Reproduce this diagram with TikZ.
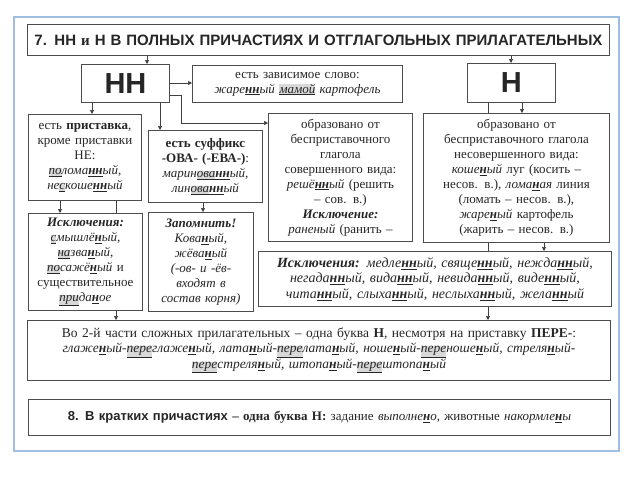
\documentclass[tikz,border=0pt]{standalone}
\usepackage{fontspec}
\setmainfont{Liberation Serif}
\setsansfont{Liberation Sans}
\usetikzlibrary{arrows.meta,calc}
\newcommand\hn[1]{\underline{\textbf{#1}}}
\newcommand\prefx[1]{{\setlength\fboxsep{0pt}\colorbox{gray!30}{\underline{#1}}}}
\tikzset{
    rule box/.style = {
        draw = black!70,
        line width = 0.9pt,
        fill = white,
        inner sep = 2pt,
        align = center,
        anchor = north west,
        text = black!85,
        font = \fontsize{13}{15}\selectfont,
        },
    boxdim/.style 2 args = {
        text width = #1,
        minimum height = #2,
        },
    head/.style = {
        font = \fontsize{29}{32}\selectfont\sffamily\bfseries,
        },
    link/.style = {
        draw = black!75,
        line width = 0.7pt,
        },
    link arrow/.style = {
        link,
        -{Triangle[length=4pt, width=4pt]},
        },
    frame/.style = {
        draw = {rgb,255:red,160;green,190;blue,225},
        line width = 1.2pt,
        },
}
\begin{document}
\begin{tikzpicture}[x=1pt, y=-1pt]
            \useasboundingbox[fill=white] (0,0) rectangle (640,480);
            \draw[frame] (14,17) rectangle (619,451);
            {
            \node [rule box, boxdim={578pt}{31pt}, font=\fontsize{15}{17}\selectfont\sffamily\bfseries] (title) at (27,24) {7. НН {\rmfamily и} Н В ПОЛНЫХ ПРИЧАСТИЯХ И ОТГЛАГОЛЬНЫХ ПРИЛАГАТЕЛЬНЫХ};
            \node [rule box, head, boxdim={84pt}{38pt}] (nn) at (81,64) {НН};
            \node [rule box, boxdim={206pt}{37pt}] (dep) at (192,65) {есть зависимое слово:\\ \textit{жаре\hn{нн}ый} \prefx{\textit{мамой}} \textit{картофель}};
            \node [rule box, head, boxdim={84pt}{39pt}] (h) at (467,63) {Н};

            \node [rule box, boxdim={109pt}{86pt}] (prist) at (28,114) {есть \textbf{приставка},\\ кроме приставки\\ НЕ:\\ \textit{\prefx{по}лома\hn{нн}ый},\\ \textit{не\prefx{с}коше\hn{нн}ый}};
            \node [rule box, boxdim={110pt}{72pt}] (suff) at (148,130) {\textbf{есть суффикс}\\ \textbf{-ОВА- (-ЕВА-)}:\\ \textit{марин\prefx{ова}\hn{нн}ый},\\ \textit{лин\prefx{ова}\hn{нн}ый}};
            \node [rule box, boxdim={140pt}{128pt}] (sov) at (268,113) {образовано от\\ бесприставочного\\ глагола\\ совершенного вида:\\ \textit{решё\hn{нн}ый} (решить\\ – сов. в.)\\ \textbf{\textit{Исключение:}}\\ \textit{раненый} (ранить –};
            \node [rule box, boxdim={182pt}{129pt}] (nesov) at (423,113) {образовано от\\ бесприставочного глагола\\ несовершенного вида:\\ \textit{коше\hn{н}ый} луг (косить –\\ несов. в.), \textit{лома\hn{н}ая} линия\\ (ломать – несов. в.),\\ \textit{жаре\hn{н}ый} картофель\\ (жарить – несов. в.)};

            \node [rule box, boxdim={110pt}{97pt}] (iskl1) at (28,213) {\textbf{\textit{Исключения:}}\\ \textit{\prefx{с}мышлё\hn{н}ый},\\ \textit{\prefx{на}зва\hn{н}ый},\\ \textit{\prefx{по}сажё\hn{н}ый} и\\ существительное\\ \textit{\prefx{при}да\hn{н}ое}};
            \node [rule box, boxdim={101pt}{99pt}, font=\fontsize{13}{15}\selectfont\itshape] (zapom) at (148,212) {\textbf{Запомнить!}\\ Кова\hn{н}ый,\\ жёва\hn{н}ый\\ (-ов- и -ёв-\\ входят в\\ состав корня)};
            \node [rule box, boxdim={349pt}{55pt}, font=\fontsize{14}{15.5}\selectfont] (iskl2) at (258,251) {\textbf{\textit{Исключения:}} \textit{медле\hn{нн}ый, свяще\hn{нн}ый, нежда\hn{нн}ый,}\\ \textit{негада\hn{нн}ый, вида\hn{нн}ый, невида\hn{нн}ый, виде\hn{нн}ый,}\\ \textit{чита\hn{нн}ый, слыха\hn{нн}ый, неслыха\hn{нн}ый, жела\hn{нн}ый}};

            \node [rule box, boxdim={579pt}{60pt}, font=\fontsize{13.5}{15.5}\selectfont] (vo2) at (27,320) {Во 2-й части сложных прилагательных – одна буква \textbf{Н}, несмотря на приставку \textbf{ПЕРЕ-}:\\ \textit{глаже\hn{н}ый-\prefx{пере}глаже\hn{н}ый, лата\hn{н}ый-\prefx{пере}лата\hn{н}ый, ноше\hn{н}ый-\prefx{пере}ноше\hn{н}ый, стреля\hn{н}ый-}\\ \textit{\prefx{пере}стреля\hn{н}ый, штопа\hn{н}ый-\prefx{пере}штопа\hn{н}ый}};
            \node [rule box, boxdim={578pt}{36pt}, font=\fontsize{13}{15}\selectfont] (kratk) at (28,399) {{\sffamily\bfseries 8. В кратких причастиях} \textbf{– одна буква Н:} задание \textit{выполне\hn{н}о}, животные \textit{накормле\hn{н}ы}};

            \draw[link arrow] (title.south -| 147,0) -- (nn.north -| 147,0);
            \draw[link arrow] (title.south -| 511,0) -- (h.north -| 511,0);
            \draw[link arrow] (nn.east |- 0,83) -- (dep.west |- 0,83);
            \draw[link arrow] (nn.south -| 92,0) -- (prist.north -| 92,0);
            \draw[link arrow] (nn.south -| 160,0) -- (suff.north -| 160,0);
            \draw[link arrow] (nn.east |- 0,95) -| (181,123) -- (sov.west |- 0,123);
            \draw[link] (h.south -| 488,0) -- (nesov.north -| 488,0);
            \draw[link arrow] (h.south -| 522,0) -- (nesov.north -| 522,0);
            \draw[link arrow] (prist.south -| 60,0) -- (iskl1.north -| 60,0);
            \draw[link] (prist.south -| 116,0) -- (iskl1.north -| 116,0);
            \draw[link arrow] (suff.south -| 203,0) -- (zapom.north -| 203,0);
            \draw[link] (nesov.south -| 488,0) -- (iskl2.north -| 488,0);
            \draw[link arrow] (nesov.south -| 544,0) -- (iskl2.north -| 544,0);
            \draw[link arrow] (iskl1.south -| 116,0) -- (vo2.north -| 116,0);
            \draw[link arrow] (iskl2.south -| 488,0) -- (vo2.north -| 488,0);
            }
\end{tikzpicture}
\end{document}
